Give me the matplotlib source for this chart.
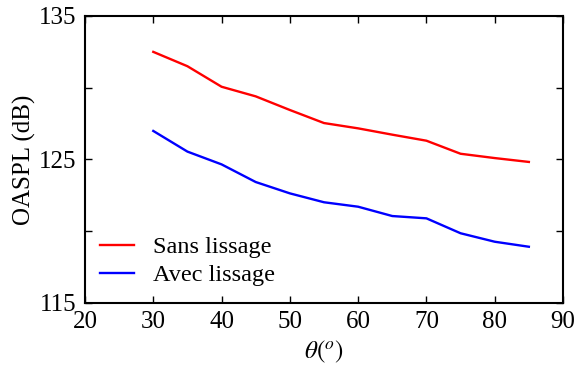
import matplotlib
matplotlib.use("Agg")
import matplotlib.pyplot as plt

plt.rcParams["font.family"] = ["Liberation Serif", "DejaVu Serif"]
plt.rcParams["mathtext.fontset"] = "stix"

theta = [30, 35, 40, 45, 50, 55, 60, 65, 70, 75, 80, 85]
sans_lissage = [132.5, 131.5, 130.07, 129.4, 128.45, 127.54, 127.17, 126.73, 126.31, 125.4, 125.1, 124.83]
avec_lissage = [126.99, 125.55, 124.66, 123.43, 122.64, 122.02, 121.71, 121.06, 120.9, 119.86, 119.27, 118.92]

xticks = [20, 30, 40, 50, 60, 70, 80, 90]
yticks = [115, 120, 125, 130, 135]
ytick_labels = ["115", "", "125", "", "135"]

fig = plt.figure(figsize=(5.77, 3.76), dpi=100)
ax = fig.add_axes([85 / 577, 1 - 303 / 376, (563 - 85) / 577, (303 - 16) / 376])

ax.plot(theta, sans_lissage, color="red", lw=1.7, label="Sans lissage")
ax.plot(theta, avec_lissage, color="blue", lw=1.7, label="Avec lissage")

ax.set_xlim(20, 90)
ax.set_ylim(115, 135)
ax.set_xticks(xticks)
ax.set_yticks(yticks)
ax.set_yticklabels(ytick_labels)
ax.tick_params(direction="in", top=True, right=True, length=5, width=1,
               labelsize=18, pad=6)
for s in ax.spines.values():
    s.set_linewidth(1.5)

ax.set_xlabel(r"$\theta(^o)$", fontsize=18, labelpad=4)
ax.set_ylabel("OASPL (dB)", fontsize=18, labelpad=2)

ax.legend(loc="lower left", frameon=False, fontsize=17.5, handlelength=1.4,
          handletextpad=0.8, labelspacing=0.25, borderpad=0, borderaxespad=0,
          bbox_to_anchor=(15 / 478, 0.058))

fig.savefig("out.png", dpi=100)
